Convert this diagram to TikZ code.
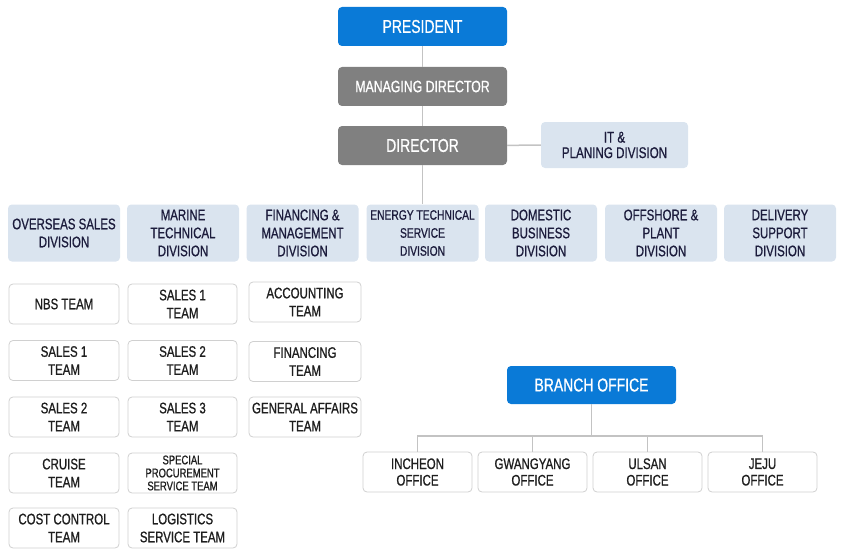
\documentclass[tikz,border=0pt]{standalone}
\usepackage{fontspec}
\setmainfont{Liberation Sans}[FakeStretch=0.75, FakeBold=0.8]
\definecolor{topblue}{RGB}{10,122,215}
\definecolor{topgray}{RGB}{128,128,128}
\definecolor{divfill}{RGB}{218,228,239}
\definecolor{divtext}{RGB}{28,28,60}
\definecolor{teamline}{RGB}{208,208,208}
\definecolor{teamtext}{RGB}{30,30,30}
\definecolor{conn}{RGB}{195,195,195}
\tikzset{
  base/.style={rounded corners=4pt, align=center, inner sep=0pt},
  topbox/.style={base, minimum width=169pt, minimum height=39pt, text=white, font=\fontsize{18.6}{20}\selectfont},
  bluebox/.style={topbox, fill=topblue},
  graybox/.style={topbox, fill=topgray},
  divbox/.style={base, fill=divfill, text=divtext, minimum width=112pt, minimum height=57pt, font=\fontsize{15.3}{18}\selectfont},
  teambox/.style={base, draw=teamline, line width=0.8pt, fill=white, text=teamtext, minimum width=110pt, minimum height=40pt, font=\fontsize{15.3}{18}\selectfont},
  officebox/.style={teambox, minimum width=109pt, font=\fontsize{15.3}{16.5}\selectfont},
  link/.style={draw=conn, line width=1.5pt}
}
\begin{document}
\begin{tikzpicture}[x=1pt,y=-1pt]
\useasboundingbox (0,0) rectangle (845,559);
% top
\node[bluebox] (pres) at (422.5,26.5) {PRESIDENT};
\node[graybox, font=\fontsize{16.4}{18}\selectfont] (mng) at (422.5,86.5) {MANAGING DIRECTOR};
\node[graybox] (dir) at (422.5,145.5) {DIRECTOR};
\node[divbox, minimum width=147pt, minimum height=46pt, font=\fontsize{15.5}{15.5}\selectfont] (it) at (614.5,145) {IT \&\\PLANING DIVISION};
% divisions
\node[divbox] (d1) at (64,233) {OVERSEAS SALES\\DIVISION};
\node[divbox] (d2) at (183,233) {MARINE\\TECHNICAL\\DIVISION};
\node[divbox] (d3) at (302.5,233) {FINANCING \&\\MANAGEMENT\\DIVISION};
\node[divbox, font=\fontsize{13.7}{18}\selectfont] (d4) at (422.5,233) {ENERGY TECHNICAL\\SERVICE\\DIVISION};
\node[divbox] (d5) at (541,233) {DOMESTIC\\BUSINESS\\DIVISION};
\node[divbox] (d6) at (661,233) {OFFSHORE \&\\PLANT\\DIVISION};
\node[divbox] (d7) at (780,233) {DELIVERY\\SUPPORT\\DIVISION};
% connectors top
\draw[link] (pres) -- (mng);
\draw[link] (mng) -- (dir);
\draw[link] (dir) -- (d4);
\draw[link] (dir) -- (it);
% teams column 1
\node[teambox] (t11) at (64,304) {NBS TEAM};
\node[teambox] (t12) at (64,360.5) {SALES 1\\TEAM};
\node[teambox] (t13) at (64,417) {SALES 2\\TEAM};
\node[teambox] (t14) at (64,473) {CRUISE\\TEAM};
\node[teambox] (t15) at (64,528) {COST CONTROL\\TEAM};
% teams column 2
\node[teambox, minimum width=109pt] (t21) at (182.5,304) {SALES 1\\TEAM};
\node[teambox, minimum width=109pt] (t22) at (182.5,360.5) {SALES 2\\TEAM};
\node[teambox, minimum width=109pt] (t23) at (182.5,417) {SALES 3\\TEAM};
\node[teambox, minimum width=109pt, font=\fontsize{12.6}{13}\selectfont] (t24) at (182.5,473) {SPECIAL\\PROCUREMENT\\SERVICE TEAM};
\node[teambox, minimum width=109pt] (t25) at (182.5,528) {LOGISTICS\\SERVICE TEAM};
% teams column 3
\node[teambox, minimum width=112pt] (t31) at (305,302) {ACCOUNTING\\TEAM};
\node[teambox, minimum width=112pt] (t32) at (305,361.5) {FINANCING\\TEAM};
\node[teambox, minimum width=112pt] (t33) at (305,417) {GENERAL AFFAIRS\\TEAM};
% branch office
\node[bluebox, minimum height=38pt] (br) at (591.5,385) {BRANCH OFFICE};
\node[officebox] (o1) at (417.5,472) {INCHEON\\OFFICE};
\node[officebox] (o2) at (532.5,472) {GWANGYANG\\OFFICE};
\node[officebox] (o3) at (647.5,472) {ULSAN\\OFFICE};
\node[officebox] (o4) at (762.5,472) {JEJU\\OFFICE};
\coordinate (bus) at (591.5,436);
\draw[link] (br.south) -- (bus);
\draw[link] (o1.north) |- (bus) -| (o4.north);
\draw[link] (o2.north) -- (o2.north |- bus);
\draw[link] (o3.north) -- (o3.north |- bus);
\end{tikzpicture}
\end{document}
